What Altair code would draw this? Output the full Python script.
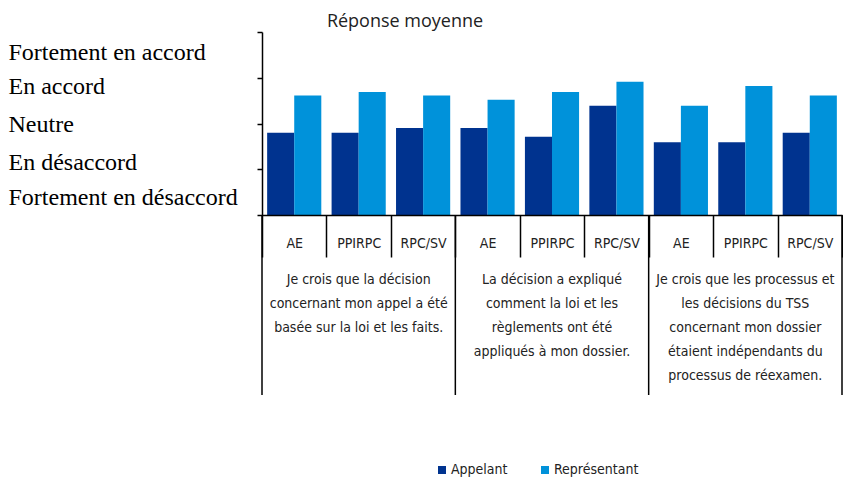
import altair as alt
import pandas as pd

questions = [
    "Je crois que la décision\nconcernant mon appel a été\nbasée sur la loi et les faits.",
    "La décision a expliqué\ncomment la loi et les\nrèglements ont été\nappliqués à mon dossier.",
    "Je crois que les processus et\nles décisions du TSS\nconcernant mon dossier\nétaient indépendants du\nprocessus de réexamen.",
]
programs = ["AE", "PPIRPC", "RPC/SV"]
series = ["Appelant", "Représentant"]
appelant = [2.80, 2.80, 2.90, 2.90, 2.71, 3.39, 2.59, 2.59, 2.80]
representant = [3.61, 3.69, 3.61, 3.52, 3.69, 3.91, 3.39, 3.82, 3.61]
levels = ["Fortement en désaccord", "En désaccord", "Neutre", "En accord", "Fortement en accord"]
colors = ["#00338F", "#0092DA"]

W, H = 580, 183
NARROW = "Liberation Sans Narrow, DejaVu Sans Condensed, Roboto, sans-serif"

cats = [f"{g}|{p}" for g in range(len(questions)) for p in programs]
rows = []
for i, c in enumerate(cats):
    rows.append({"cat": c, "serie": series[0], "value": appelant[i]})
    rows.append({"cat": c, "serie": series[1], "value": representant[i]})
df = pd.DataFrame(rows)

grp_df = pd.DataFrame({
    "start": [f"{g}|{programs[0]}" for g in range(len(questions))],
    "mid": [f"{g}|{programs[1]}" for g in range(len(questions))],
    "label": questions,
})

xscale = alt.Scale(domain=cats, paddingInner=0, paddingOuter=0)
xaxis = alt.Axis(
    title=None, labelExpr="split(datum.value, '|')[1]", tickBand="extent",
    tickSize=42, labelPadding=-21, labelAngle=0, labelFont=NARROW, labelFontSize=14,
    labelColor="#222222", domainColor="#000000", tickColor="#000000",
    domainWidth=1.5, tickWidth=1.5, labelBaseline="top", zindex=1,
)

label_js = "[" + ",".join(f"'{t}'" for t in levels) + "][datum.value - 1]"
offsets = {5: 20, 4: 9, 3: 1, 2: -7, 1: -18}
yaxis = alt.Axis(
    title=None, values=[1, 2, 3, 4, 5], grid=False, labelExpr=label_js,
    labelAlign="left", labelBaseline="middle", labelPadding=249, labelLimit=0,
    labelFont="Liberation Serif", labelFontSize=24, labelColor="#000000",
    labelOffset={"condition": [{"test": f"datum.value == {k}", "value": v} for k, v in offsets.items()], "value": 0},
    tickSize=5, domainColor="#000000", tickColor="#000000", domainWidth=1.5, tickWidth=1.5,
)

bars = alt.Chart(df).mark_bar().encode(
    x=alt.X("cat:N", scale=xscale, axis=xaxis),
    xOffset=alt.XOffset("serie:N", sort=series, scale=alt.Scale(paddingOuter=0.19, paddingInner=0)),
    y=alt.Y("value:Q", scale=alt.Scale(domain=[1, 5], nice=False, zero=False), axis=yaxis),
    y2=alt.datum(1),
    color=alt.Color(
        "serie:N", sort=series, scale=alt.Scale(domain=series, range=colors),
        legend=alt.Legend(
            orient="none", legendX=173, legendY=431, direction="horizontal", title=None,
            symbolType="square", symbolSize=64, symbolStrokeWidth=0, labelFont=NARROW,
            labelFontSize=14, labelColor="#222222", columnPadding=30, labelOffset=2,
        ),
    ),
)

seps = alt.Chart(grp_df).mark_rule(color="#000000", strokeWidth=1.5).encode(
    x=alt.X("start:N", scale=xscale, axis=xaxis, bandPosition=0),
    y=alt.value(H), y2=alt.value(H + 180),
)
end_sep = alt.Chart(grp_df.head(1)).mark_rule(color="#000000", strokeWidth=1.5).encode(
    x=alt.value(W), y=alt.value(H), y2=alt.value(H + 180),
)
texts = alt.Chart(grp_df).mark_text(
    lineBreak="\n", baseline="top", align="center", font=NARROW, fontSize=14,
    lineHeight=24, color="#222222",
).encode(
    x=alt.X("mid:N", scale=xscale, axis=xaxis, bandPosition=0.5),
    y=alt.value(H + 58), text="label:N",
)

chart = alt.layer(bars, seps, end_sep, texts).properties(
    width=W, height=H,
    title=alt.TitleParams("Réponse moyenne", font="Open Sans", fontSize=18, fontWeight="normal",
                          color="#222222", anchor="middle", dx=-147, offset=0),
    autosize=alt.AutoSizeParams(type="none"),
    padding={"left": 254, "top": 24, "right": 1, "bottom": 268},
).configure_view(stroke=None)

chart.save("out.html", embed_options={"renderer": "svg", "actions": False})
